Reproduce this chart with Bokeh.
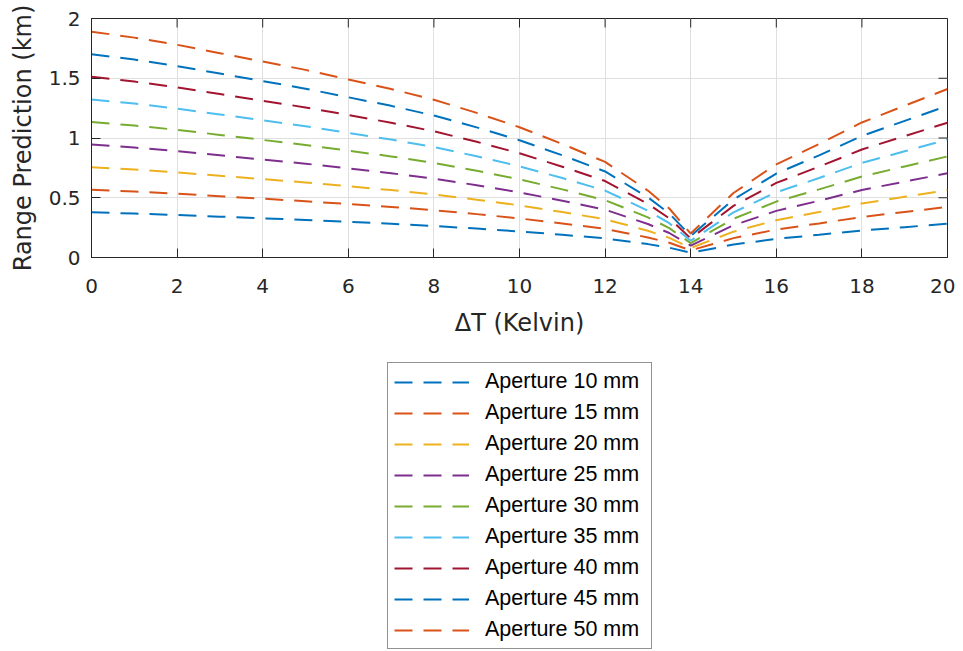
import math
from bokeh.plotting import figure
from bokeh.layouts import column
from bokeh.models import Range1d, Legend, LegendItem, FixedTicker, NumeralTickFormatter
from bokeh.embed import file_html
from bokeh.resources import INLINE

# Delta T (Kelvin)
delta_t = [0, 1, 2, 3, 4, 5, 6, 7, 8, 9, 10, 11, 12, 13, 13.5, 14, 14.5, 15, 16, 17, 18, 19, 20]

# Range prediction (km) per aperture
ap10 = [0.378, 0.368, 0.356, 0.342, 0.328, 0.314, 0.298, 0.282, 0.264, 0.242, 0.218, 0.190, 0.160, 0.112, 0.082, 0.040, 0.074, 0.108, 0.156, 0.190, 0.226, 0.254, 0.282]
ap15 = [0.567, 0.552, 0.534, 0.513, 0.492, 0.471, 0.447, 0.423, 0.396, 0.363, 0.327, 0.285, 0.240, 0.168, 0.123, 0.060, 0.111, 0.162, 0.234, 0.285, 0.339, 0.381, 0.423]
ap20 = [0.756, 0.736, 0.712, 0.684, 0.656, 0.628, 0.596, 0.564, 0.528, 0.484, 0.436, 0.380, 0.320, 0.224, 0.164, 0.080, 0.148, 0.216, 0.312, 0.380, 0.452, 0.508, 0.564]
ap25 = [0.945, 0.920, 0.890, 0.855, 0.820, 0.785, 0.745, 0.705, 0.660, 0.605, 0.545, 0.475, 0.400, 0.280, 0.205, 0.100, 0.185, 0.270, 0.390, 0.475, 0.565, 0.635, 0.705]
ap30 = [1.134, 1.104, 1.068, 1.026, 0.984, 0.942, 0.894, 0.846, 0.792, 0.726, 0.654, 0.570, 0.480, 0.336, 0.246, 0.120, 0.222, 0.324, 0.468, 0.570, 0.678, 0.762, 0.846]
ap35 = [1.323, 1.288, 1.246, 1.197, 1.148, 1.099, 1.043, 0.987, 0.924, 0.847, 0.763, 0.665, 0.560, 0.392, 0.287, 0.140, 0.259, 0.378, 0.546, 0.665, 0.791, 0.889, 0.987]
ap40 = [1.512, 1.472, 1.424, 1.368, 1.312, 1.256, 1.192, 1.128, 1.056, 0.968, 0.872, 0.760, 0.640, 0.448, 0.328, 0.160, 0.296, 0.432, 0.624, 0.760, 0.904, 1.016, 1.128]
ap45 = [1.701, 1.656, 1.602, 1.539, 1.476, 1.413, 1.341, 1.269, 1.188, 1.089, 0.981, 0.855, 0.720, 0.504, 0.369, 0.180, 0.333, 0.486, 0.702, 0.855, 1.017, 1.143, 1.269]
ap50 = [1.890, 1.840, 1.780, 1.710, 1.640, 1.570, 1.490, 1.410, 1.320, 1.210, 1.090, 0.950, 0.800, 0.560, 0.410, 0.200, 0.370, 0.540, 0.780, 0.950, 1.130, 1.270, 1.410]

series = [ap10, ap15, ap20, ap25, ap30, ap35, ap40, ap45, ap50]
labels = ["Aperture 10 mm", "Aperture 15 mm", "Aperture 20 mm", "Aperture 25 mm",
          "Aperture 30 mm", "Aperture 35 mm", "Aperture 40 mm", "Aperture 45 mm",
          "Aperture 50 mm"]
colors = ["#0072BD", "#D95319", "#EDB120", "#7E2F8E", "#77AC30", "#4DBEEE",
          "#A2142F", "#0072BD", "#D95319"]

x_ticks = [0, 2, 4, 6, 8, 10, 12, 14, 16, 18, 20]
y_ticks = [0, 0.5, 1, 1.5, 2]
x_min, x_max = 0, 20
y_min, y_max = 0, 2

AX = "#262626"
AXFONT = "DejaVu Sans"
DASH = "18 11"

p = figure(frame_width=856, frame_height=239,
           x_range=Range1d(x_min, x_max), y_range=Range1d(y_min, y_max),
           output_backend="svg", toolbar_location=None,
           min_border_left=91, min_border_right=8, min_border_top=18,
           min_border_bottom=85)
p.background_fill_color = "white"
p.border_fill_color = "white"
p.outline_line_color = AX
p.outline_line_width = 1

for ys, col in zip(series, colors):
    p.line(delta_t, ys, line_color=col, line_width=2, line_dash=DASH)

# tick marks on the top and right edges of the box
p.ray(x=x_ticks, y=[y_max] * len(x_ticks), length=9, length_units="screen",
      angle=-math.pi / 2, line_color=AX, line_width=1)
p.ray(x=[x_max] * len(y_ticks), y=y_ticks, length=9, length_units="screen",
      angle=math.pi, line_color=AX, line_width=1)

for ax in (p.xaxis[0], p.yaxis[0]):
    ax.axis_line_color = AX
    ax.major_tick_line_color = AX
    ax.major_tick_in = 9
    ax.major_tick_out = 0
    ax.minor_tick_line_color = None
    ax.major_label_text_color = AX
    ax.major_label_text_font = AXFONT
    ax.major_label_text_font_size = "20px"
    ax.axis_label_text_color = AX
    ax.axis_label_text_font = AXFONT
    ax.axis_label_text_font_size = "24px"
    ax.axis_label_text_font_style = "normal"

p.xaxis[0].ticker = FixedTicker(ticks=x_ticks)
p.yaxis[0].ticker = FixedTicker(ticks=y_ticks)
p.xaxis[0].formatter = NumeralTickFormatter(format="0.[0]")
p.yaxis[0].formatter = NumeralTickFormatter(format="0.[0]")
p.xaxis[0].axis_label = "ΔT (Kelvin)"
p.yaxis[0].axis_label = "Range Prediction (km)"
p.xaxis[0].major_label_standoff = 21
p.yaxis[0].major_label_standoff = 11
p.xaxis[0].axis_label_standoff = 13
p.yaxis[0].axis_label_standoff = 9

p.xgrid.ticker = FixedTicker(ticks=x_ticks)
p.ygrid.ticker = FixedTicker(ticks=y_ticks)
p.xgrid.grid_line_color = "#dfdfdf"
p.ygrid.grid_line_color = "#dfdfdf"

# legend panel below the plot (its lines lie outside its own view)
q = figure(width=955, height=307, x_range=Range1d(100, 101), y_range=Range1d(100, 101),
           output_backend="svg", toolbar_location=None,
           x_axis_location=None, y_axis_location=None, min_border=0)
q.outline_line_color = None
q.xgrid.visible = False
q.ygrid.visible = False
q.background_fill_color = "white"
q.border_fill_color = "white"

items = []
for ys, lab, col in zip(series, labels, colors):
    r = q.line(delta_t, ys, line_color=col, line_width=2, line_dash=DASH)
    items.append(LegendItem(label=lab, renderers=[r]))

legend = Legend(items=items, location=(296, 0), orientation="vertical")
legend.label_text_font = "Liberation Sans"
legend.label_text_font_size = "21.5px"
legend.label_text_color = "black"
legend.glyph_width = 75
legend.glyph_height = 20
legend.label_height = 20
legend.label_width = 160
legend.label_standoff = 16
legend.spacing = 6
legend.padding = 6
legend.margin = 0
legend.border_line_color = AX
legend.border_line_width = 1
legend.background_fill_color = "white"
legend.background_fill_alpha = 1
q.add_layout(legend, "center")

layout = column(p, q, spacing=0)
open("out.html", "w").write(file_html(layout, INLINE))
